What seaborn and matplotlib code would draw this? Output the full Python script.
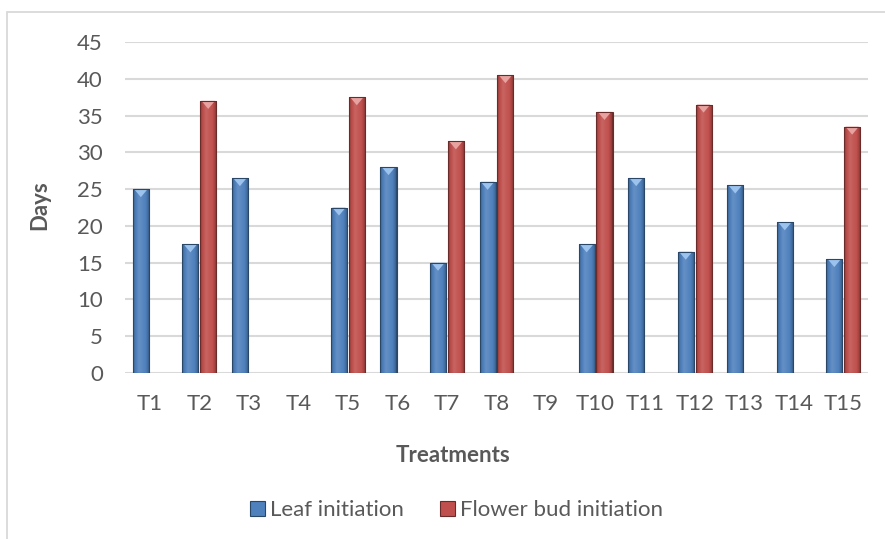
import numpy as np
import pandas as pd
import matplotlib
matplotlib.use("Agg")
import matplotlib.pyplot as plt
import matplotlib.colors as mcolors
from matplotlib.patches import Rectangle, Polygon
import seaborn as sns

# ---- data ----
treatments = ["T1", "T2", "T3", "T4", "T5", "T6", "T7", "T8", "T9", "T10",
              "T11", "T12", "T13", "T14", "T15"]
leaf_initiation = [25, 17.5, 26.5, np.nan, 22.5, 28, 15, 26, np.nan, 17.5,
                   26.5, 16.5, 25.5, 20.5, 15.5]
flower_bud_initiation = [np.nan, 37, np.nan, np.nan, 37.5, np.nan, 31.5, 40.5, np.nan, 35.5,
                         np.nan, 36.5, np.nan, np.nan, 33.5]
series_names = ["Leaf initiation", "Flower bud initiation"]
y_ticks = [0, 5, 10, 15, 20, 25, 30, 35, 40, 45]

df = pd.DataFrame({
    "Treatment": treatments * 2,
    "Series": [series_names[0]] * len(treatments) + [series_names[1]] * len(treatments),
    "Days": leaf_initiation + flower_bud_initiation,
})

sns.set_theme(style="white")
plt.rcParams["font.family"] = ["Lato", "DejaVu Sans"]

BLUE = "#4F81BD"
RED = "#C0504D"
TXT = "#595959"
GRID = "#D9D9D9"
FS = 16

W, H = 885, 539
fig = plt.figure(figsize=(W / 100, H / 100), dpi=100)
fig.patch.set_facecolor("white")

# chart border (cropped on right/bottom)
fig.add_artist(Rectangle((7 / W, -0.05), 1.2, 1 - 12 / H + 0.05, transform=fig.transFigure,
                         fill=False, edgecolor=GRID, linewidth=1.3))

ax = fig.add_axes([125 / W, 1 - 373 / H, (868 - 125) / W, (373 - 42) / H])
sns.barplot(data=df, x="Treatment", y="Days", hue="Series", hue_order=series_names,
            order=treatments, palette=[BLUE, RED], width=0.72, gap=0.1,
            errorbar=None, legend=False, ax=ax, edgecolor="none", linewidth=0, zorder=3)

ax.set_ylim(0, 45)
ax.set_xlim(-0.5, len(treatments) - 0.5)
ax.set_yticks(y_ticks)
ax.yaxis.grid(True, color=GRID, linewidth=1.5, zorder=0)
ax.set_axisbelow(True)
for s in ax.spines.values():
    s.set_visible(False)
ax.tick_params(axis="both", length=0, labelsize=FS, labelcolor=TXT)
ax.tick_params(axis="y", pad=16)
ax.tick_params(axis="x", pad=15)
ax.set_xlabel("")
ax.set_ylabel("")


def shade(color, f):
    c = np.array(mcolors.to_rgb(color))
    if f >= 0:
        return c + (1 - c) * f
    return c * (1 + f)


def gradient_img(color, n=64):
    t = np.linspace(0, 1, n)
    prof = np.interp(t, [0, 0.08, 0.35, 0.75, 0.92, 1.0], [-0.45, -0.1, 0.12, 0.0, -0.2, -0.5])
    return np.array([shade(color, f) for f in prof])[None, :, :]


light = {BLUE: "#9CC3EE", RED: "#E8A3A1"}
for patch in list(ax.patches):
    h = patch.get_height()
    if not np.isfinite(h) or h <= 0:
        continue
    fc = mcolors.to_rgb(patch.get_facecolor()[:3])
    base = BLUE if abs(fc[2] - mcolors.to_rgb(BLUE)[2]) < 0.1 else RED
    x0 = patch.get_x()
    w = patch.get_width()
    y0 = patch.get_y()
    img = ax.imshow(gradient_img(base), extent=[x0, x0 + w, y0, y0 + h], aspect="auto",
                    zorder=4, interpolation="bilinear")
    img.set_clip_path(patch)
    tri_h = 1.1
    ax.add_patch(Polygon([[x0 + w * 0.08, y0 + h], [x0 + w * 0.92, y0 + h],
                          [x0 + w / 2, y0 + h - tri_h]], closed=True,
                         facecolor=light[base], edgecolor="none", zorder=5))
    ax.add_patch(Rectangle((x0, y0), w, h, fill=False,
                           edgecolor=shade(base, -0.45), linewidth=0.8, zorder=6))

ax.set_xlim(-0.5, len(treatments) - 0.5)
ax.set_ylim(0, 45)

fig.text(40 / W, 1 - 205 / H, "Days", rotation=90, ha="center", va="center",
         fontsize=FS, fontweight="bold", color=TXT)
fig.text(453 / W, 1 - 455 / H, "Treatments", ha="center", va="center",
         fontsize=FS, fontweight="bold", color=TXT)

handles = [Rectangle((0, 0), 1, 1, facecolor=BLUE, edgecolor=shade(BLUE, -0.45), linewidth=0.8),
           Rectangle((0, 0), 1, 1, facecolor=RED, edgecolor=shade(RED, -0.45), linewidth=0.8)]
fig.legend(handles, series_names, loc="center", bbox_to_anchor=(456.5 / W, 1 - 510 / H),
           ncol=2, frameon=False, fontsize=FS, labelcolor=TXT, handlelength=0.68,
           handleheight=0.68, handletextpad=0.25, columnspacing=1.6,
           borderpad=0, borderaxespad=0)

fig.savefig("out.png", dpi=100)
